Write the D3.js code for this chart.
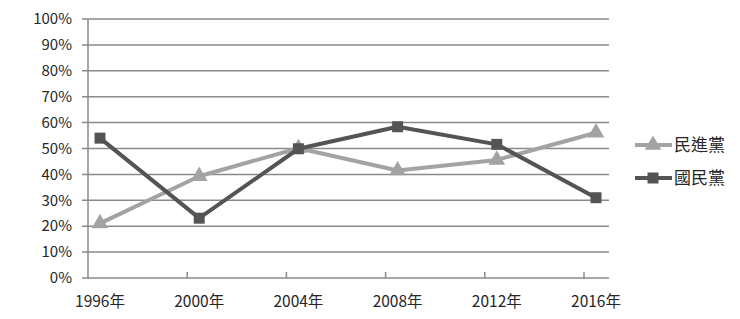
<!DOCTYPE html>
<html>
<head>
<meta charset="utf-8">
<script src="https://cdn.jsdelivr.net/npm/d3@7"></script>
<style>
  body { margin: 0; background: #fff; }
  text { font-family: "Noto Sans CJK TC", "Noto Sans", sans-serif; fill: #262626; }
</style>
</head>
<body>
<svg id="chart" width="740" height="319"></svg>
<script>
// election years and vote shares (%)
var years = ["1996年", "2000年", "2004年", "2008年", "2012年", "2016年"];
var dpp = [21.1, 39.3, 50.1, 41.5, 45.6, 56.1];   // 民進黨
var kmt = [54.0, 23.1, 49.9, 58.4, 51.6, 31.0];   // 國民黨
var yTicks = [0, 10, 20, 30, 40, 50, 60, 70, 80, 90, 100];

var series = [
    {name: "民進黨", values: dpp, color: "#a3a3a3", marker: "triangle"},
    {name: "國民黨", values: kmt, color: "#545454", marker: "square"}
];

var svg = d3.select("#chart");
var plotLeft = 88, plotRight = 609, plotTop = 19, plotBottom = 278;

var x = d3.scalePoint()
    .domain(years)
    .range([100, 596]);

var y = d3.scaleLinear()
    .domain([0, 100])
    .range([plotBottom, plotTop]);

// grid lines
svg.append("g")
    .selectAll("line")
    .data(yTicks)
    .enter().append("line")
    .attr("x1", plotLeft - 6)
    .attr("x2", plotRight)
    .attr("y1", function (d) { return y(d); })
    .attr("y2", function (d) { return y(d); })
    .style("stroke", "#8a8a8a")
    .style("stroke-width", 1.5);

// y axis line
svg.append("line")
    .attr("x1", plotLeft).attr("x2", plotLeft)
    .attr("y1", plotTop).attr("y2", plotBottom)
    .style("stroke", "#8a8a8a")
    .style("stroke-width", 1.5);

// y labels
svg.append("g")
    .selectAll("text")
    .data(yTicks)
    .enter().append("text")
    .attr("x", plotLeft - 16)
    .attr("y", function (d) { return y(d); })
    .attr("dy", "0.35em")
    .attr("text-anchor", "end")
    .style("font-size", "15px")
    .text(function (d) { return d + "%"; });

// x ticks (sit a bit left of each category)
svg.append("g")
    .selectAll("line")
    .data(years.slice(1))
    .enter().append("line")
    .attr("x1", function (d) { return x(d) - 12; })
    .attr("x2", function (d) { return x(d) - 12; })
    .attr("y1", plotBottom)
    .attr("y2", plotBottom - 6)
    .style("stroke", "#8a8a8a")
    .style("stroke-width", 1.5);

// x labels
svg.append("g")
    .selectAll("text")
    .data(years)
    .enter().append("text")
    .attr("x", function (d) { return x(d); })
    .attr("y", 302)
    .attr("dy", "0.35em")
    .attr("text-anchor", "middle")
    .style("font-size", "15.5px")
    .text(function (d) { return d; });

var line = d3.line()
    .x(function (d, i) { return x(years[i]); })
    .y(function (d) { return y(d); });

var tri = d3.symbol().type(d3.symbolTriangle).size(120);
var sq = d3.symbol().type(d3.symbolSquare).size(121);

series.forEach(function (s) {
    svg.append("path")
        .datum(s.values)
        .attr("d", line)
        .style("fill", "none")
        .style("stroke", s.color)
        .style("stroke-width", 4)
        .style("stroke-linejoin", "round");

    svg.append("g")
        .selectAll("path")
        .data(s.values)
        .enter().append("path")
        .attr("transform", function (d, i) {
            return "translate(" + x(years[i]) + "," + y(d) + ")";
        })
        .attr("d", s.marker === "triangle" ? tri : sq)
        .style("fill", s.color);
});

// legend
var legend = svg.append("g")
    .selectAll("g")
    .data(series)
    .enter().append("g")
    .attr("transform", function (d, i) { return "translate(0," + (145 + i * 33) + ")"; });

legend.append("line")
    .attr("x1", 635).attr("x2", 672)
    .style("stroke", function (d) { return d.color; })
    .style("stroke-width", 4);

legend.append("path")
    .attr("transform", "translate(653,0)")
    .attr("d", function (d) { return d.marker === "triangle" ? tri() : sq(); })
    .style("fill", function (d) { return d.color; });

legend.append("text")
    .attr("x", 674)
    .attr("dy", "0.35em")
    .style("font-size", "17px")
    .text(function (d) { return d.name; });
</script>
</body>
</html>
